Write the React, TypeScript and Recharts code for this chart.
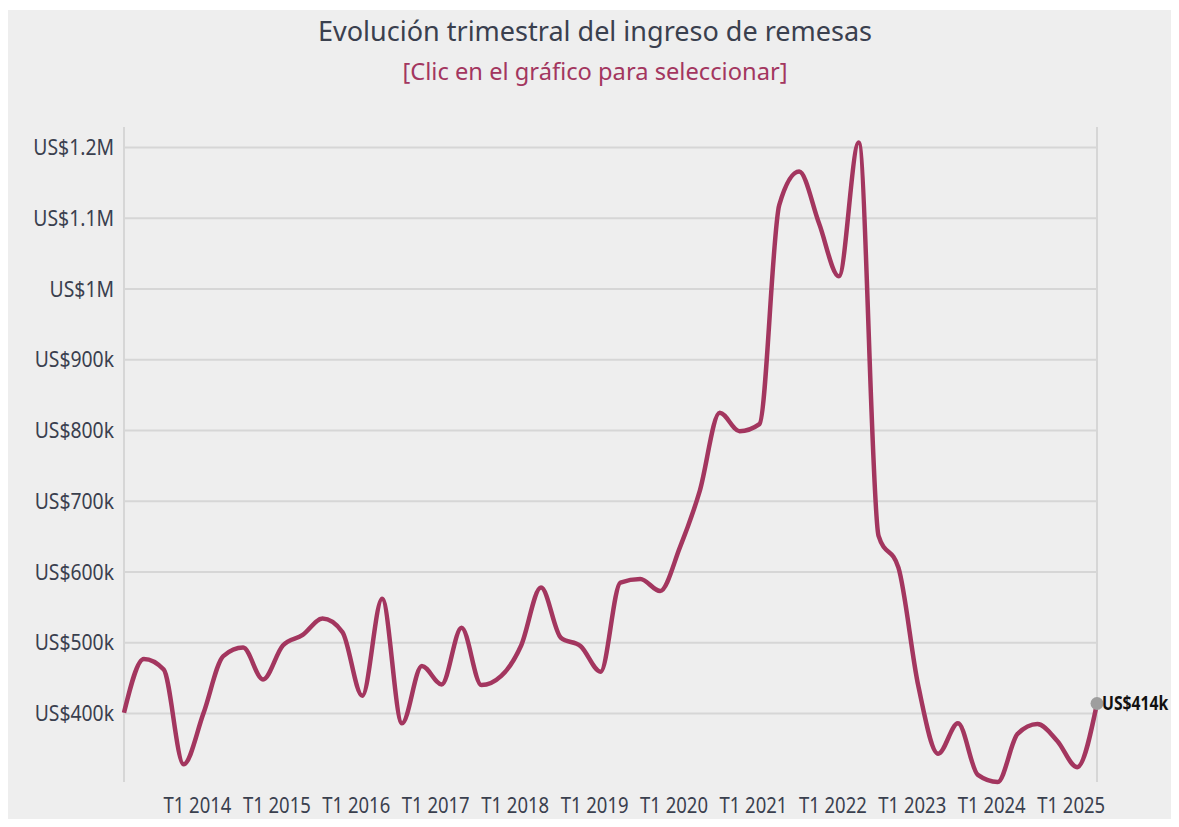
import React from "react";
import { LineChart, Line, XAxis, YAxis, ReferenceLine } from "recharts";

const quarters = [
  "T1 2013", "T2 2013", "T3 2013", "T4 2013",
  "T1 2014", "T2 2014", "T3 2014", "T4 2014",
  "T1 2015", "T2 2015", "T3 2015", "T4 2015",
  "T1 2016", "T2 2016", "T3 2016", "T4 2016",
  "T1 2017", "T2 2017", "T3 2017", "T4 2017",
  "T1 2018", "T2 2018", "T3 2018", "T4 2018",
  "T1 2019", "T2 2019", "T3 2019", "T4 2019",
  "T1 2020", "T2 2020", "T3 2020", "T4 2020",
  "T1 2021", "T2 2021", "T3 2021", "T4 2021",
  "T1 2022", "T2 2022", "T3 2022", "T4 2022",
  "T1 2023", "T2 2023", "T3 2023", "T4 2023",
  "T1 2024", "T2 2024", "T3 2024", "T4 2024",
  "T1 2025", "T2 2025",
];

const remesas = [
  401000, 477000, 462000, 328000,
  400000, 481000, 493000, 448000,
  496000, 511000, 534000, 515000,
  425000, 562000, 386000, 467000,
  441000, 521000, 440000, 453000,
  496000, 578000, 507000, 495000,
  459000, 585000, 590000, 573000,
  635000, 715000, 825000, 799000,
  809000, 1119000, 1166000, 1093000,
  1018000, 1207000, 651000, 606000,
  439000, 343000, 386000, 313000,
  303000, 371000, 385000, 361000,
  324000, 414000,
];

const xTicks = [
  "T1 2014", "T1 2015", "T1 2016", "T1 2017", "T1 2018", "T1 2019",
  "T1 2020", "T1 2021", "T1 2022", "T1 2023", "T1 2024", "T1 2025",
];

const yTicks = [400000, 500000, 600000, 700000, 800000, 900000, 1000000, 1100000, 1200000];

const title = "Evolución trimestral del ingreso de remesas";
const subtitle = "[Clic en el gráfico para seleccionar]";

const data = quarters.map((q, i) => ({ q, v: remesas[i] }));

const FONT = "'Noto Sans', 'Open Sans', sans-serif";
const TEXT = "#3a404e";
const LINE = "#a3365f";
const GRID = "#d6d6d6";

const fmtY = (v: number) =>
  v >= 1000000 ? `US$${+(v / 1000000).toFixed(1)}M` : `US$${Math.round(v / 1000)}k`;

const fmtLast = (v: number) => `US$${Math.round(v / 1000)}k`;

const XTick = (props: any) => {
  const { x, y, payload } = props;
  return (
    <g transform={`translate(${x - 6},${y}) scale(0.88,1)`}>
      <text x={0} y={0} dy="0.71em" textAnchor="middle" fontFamily={FONT} fontSize={21} fill={TEXT}>
        {payload.value}
      </text>
    </g>
  );
};

const YTick = (props: any) => {
  const { x, y, payload } = props;
  return (
    <g transform={`translate(${x},${y}) scale(0.9,1)`}>
      <text x={0} y={0} dy="0.36em" textAnchor="end" fontFamily={FONT} fontSize={21.5} fill={TEXT}>
        {fmtY(payload.value)}
      </text>
    </g>
  );
};

const LastDot = (props: any) => {
  const { cx, cy, index, value } = props;
  if (index !== data.length - 1) return null;
  const val = Array.isArray(value) ? value[1] : value;
  return (
    <g>
      <circle cx={cx} cy={cy} r={6.5} fill="#9e9e9e" />
      <g transform={`translate(${cx + 5},${cy}) scale(0.83,1)`}>
        <text
          x={0}
          y={0}
          dy="0.36em"
          fontFamily={FONT}
          fontWeight={700}
          fontSize={19}
          fill="#111"
        >
          {fmtLast(val)}
        </text>
      </g>
    </g>
  );
};

export default function App() {
  return (
    <div
      style={{
        position: "relative",
        width: 1163,
        height: 817,
        marginTop: 2,
        marginBottom: -8,
        background: "#eeeeee",
      }}
    >
      <svg
        width={1163}
        height={100}
        style={{ position: "absolute", left: 0, top: 0 }}
      >
        <text
          x={587}
          y={31}
          textAnchor="middle"
          fontFamily={FONT}
          fontSize={28}
          fill={TEXT}
          textLength={554}
          lengthAdjust="spacingAndGlyphs"
        >
          {title}
        </text>
        <text
          x={587}
          y={70}
          textAnchor="middle"
          fontFamily={FONT}
          fontSize={24}
          fill={LINE}
          textLength={385}
          lengthAdjust="spacingAndGlyphs"
        >
          {subtitle}
        </text>
      </svg>
      <div style={{ position: "absolute", left: 0, top: 0, width: 1163, height: 817 }}>
        <LineChart
          width={1163}
          height={817}
          data={data}
          margin={{ top: 117, right: 74, bottom: 5, left: 0 }}
        >
          {yTicks.map((t) => (
            <ReferenceLine key={t} y={t} stroke={GRID} strokeWidth={2} />
          ))}
          <ReferenceLine x={quarters[0]} stroke={GRID} strokeWidth={2} />
          <ReferenceLine x={quarters[quarters.length - 1]} stroke={GRID} strokeWidth={2} />
          <XAxis
            dataKey="q"
            ticks={xTicks}
            interval={0}
            axisLine={false}
            tickLine={false}
            tickSize={0}
            tickMargin={16}
            height={40}
            tick={<XTick />}
          />
          <YAxis
            domain={[303000, 1229000]}
            ticks={yTicks}
            axisLine={false}
            tickLine={false}
            tickSize={0}
            tickMargin={10}
            width={116}
            tick={<YTick />}
          />
          <Line
            type="monotone"
            dataKey="v"
            stroke={LINE}
            strokeWidth={4.5}
            dot={<LastDot />}
            activeDot={false}
            isAnimationActive={false}
          />
        </LineChart>
      </div>
    </div>
  );
}
